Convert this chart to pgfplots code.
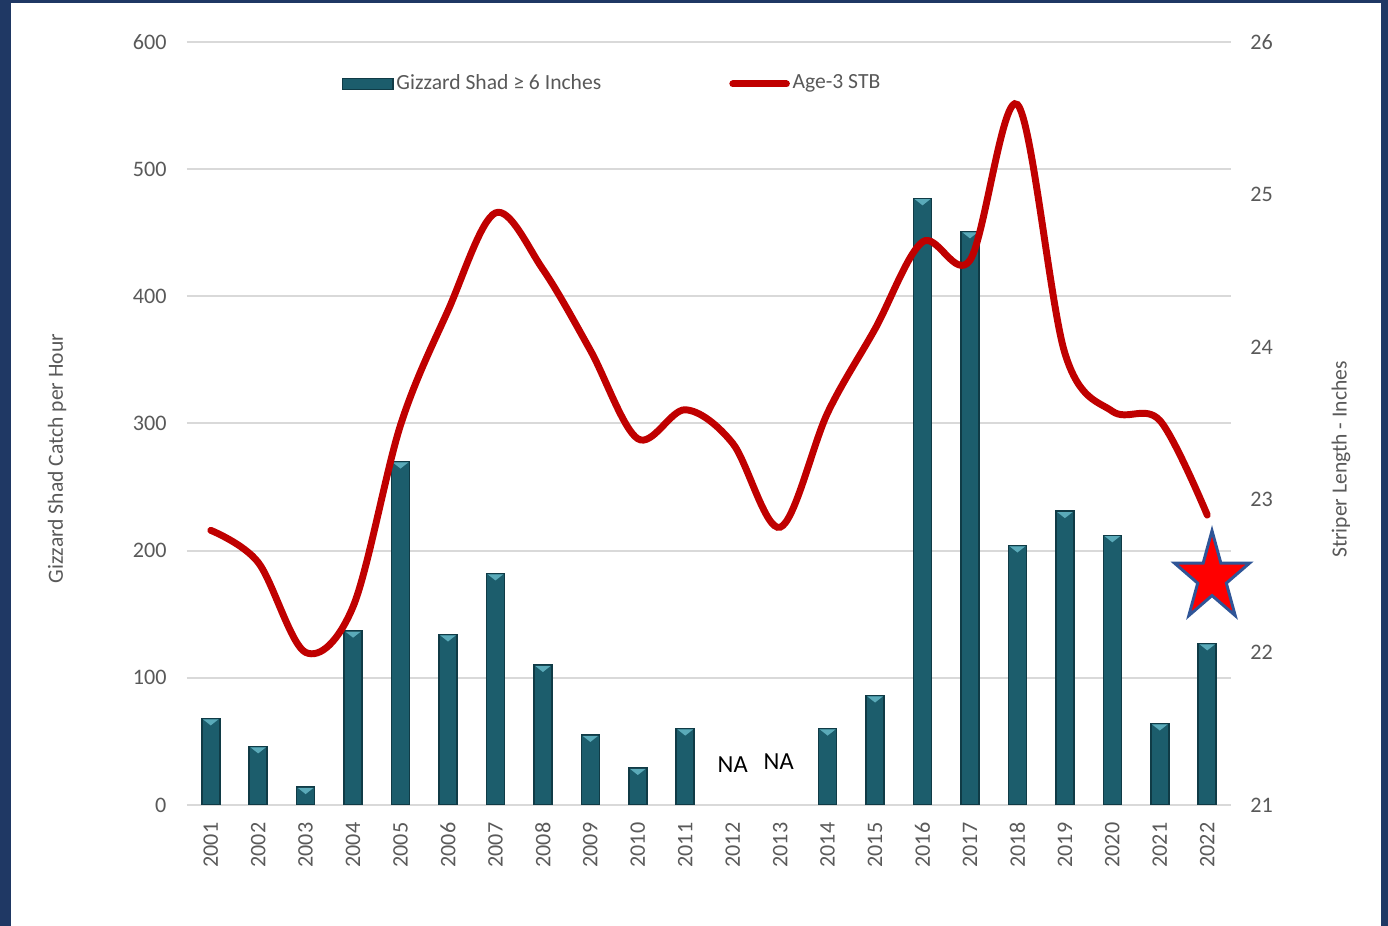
\documentclass[border=0pt]{standalone}
\usepackage{fontspec}
\setmainfont{Carlito}
\usepackage{pgfplots}
\usepackage{pgfplotstable}
\pgfplotsset{compat=1.18}
\definecolor{navy}{HTML}{1F3864}
\definecolor{barmid}{HTML}{1C5D6C}
\definecolor{baredge}{HTML}{103B46}
\definecolor{barlight}{HTML}{5AAAB9}
\definecolor{linered}{HTML}{C00000}
\definecolor{txtgray}{HTML}{595959}
\definecolor{gridgray}{HTML}{D9D9D9}
\definecolor{starblue}{HTML}{2F5597}

\pgfdeclareplotmark{bigstar}{%
  \pgfpathmoveto{\pgfqpoint{0pt}{17.6pt}}%
  \pgfpathlineto{\pgfqpoint{-3.32pt}{5.44pt}}%
  \pgfpathlineto{\pgfqpoint{-14.08pt}{5.44pt}}%
  \pgfpathlineto{\pgfqpoint{-5.37pt}{-2.08pt}}%
  \pgfpathlineto{\pgfqpoint{-8.70pt}{-14.24pt}}%
  \pgfpathlineto{\pgfqpoint{0pt}{-6.72pt}}%
  \pgfpathlineto{\pgfqpoint{8.70pt}{-14.24pt}}%
  \pgfpathlineto{\pgfqpoint{5.37pt}{-2.08pt}}%
  \pgfpathlineto{\pgfqpoint{14.08pt}{5.44pt}}%
  \pgfpathlineto{\pgfqpoint{3.32pt}{5.44pt}}%
  \pgfpathclose
  \pgfusepathqfillstroke}

\pgfdeclareplotmark{bevel}{%
  \pgfpathmoveto{\pgfqpoint{-2.9pt}{-0.3pt}}%
  \pgfpathlineto{\pgfqpoint{2.9pt}{-0.3pt}}%
  \pgfpathlineto{\pgfqpoint{0pt}{-2.6pt}}%
  \pgfpathclose
  \pgfusepathqfill}

\pgfplotstableread{
x y
0 68
1 46
2 14
3 137
4 270
5 134
6 182
7 110
8 55
9 29
10 60
13 60
14 86
15 477
16 451
17 204
18 231
19 212
20 64
21 127
}\shad

\pgfplotstableread{
x y
0 22.80
1 22.59
2 22.00
3 22.30
4 23.49
5 24.24
6 24.88
7 24.51
8 23.98
9 23.40
10 23.59
11 23.37
12 22.82
13 23.57
14 24.12
15 24.69
16 24.57
17 25.59
18 23.96
19 23.58
20 23.52
21 22.90
}\stb

\begin{document}
\begin{tikzpicture}
\useasboundingbox (0pt,0pt) rectangle (520.5pt,347.25pt);
\fill[navy] (0pt,0pt) rectangle (520.5pt,347.25pt);
\fill[white] (4.125pt,0pt) rectangle (517.875pt,346.125pt);
\begin{axis}[
  at={(70.125pt,45.375pt)}, anchor=south west,
  scale only axis, width=391.5pt, height=286.125pt,
  xmin=-0.5, xmax=21.5, ymin=0, ymax=600,
  ytick={0,100,...,600},
  xtick={0,...,21},
  xticklabels={2001,2002,2003,2004,2005,2006,2007,2008,2009,2010,2011,2012,2013,2014,2015,2016,2017,2018,2019,2020,2021,2022},
  ymajorgrids, grid style={gridgray, line width=0.75pt},
  axis line style={draw=none}, major tick length=0pt,
  tick label style={font=\fontsize{8.3}{10}\selectfont, text=txtgray, inner sep=0pt},
  /pgf/number format/assume math mode=true,
  xticklabel style={rotate=90, anchor=east},
  xticklabel shift=6.4pt,
  yticklabel shift=7.5pt,
  ylabel={Gizzard Shad Catch per Hour},
  every axis y label/.style={at={(axis description cs:-0.1245,0.454)}, rotate=90, anchor=center, font=\fontsize{8.1}{10}\selectfont, text=txtgray},
  legend style={at={(0.1475,0.945)}, anchor=west, draw=none, fill=none,
    font=\fontsize{8.1}{10}\selectfont, text=txtgray, inner xsep=0pt,
    /tikz/every even column/.append style={column sep=47pt},
    nodes={inner xsep=1pt}},
  legend columns=2,
]
\addplot[ybar, bar width=6.75pt, fill=barmid, draw=baredge, line width=0.6pt,
  mark=bevel, mark options={fill=barlight, draw=none},
  legend image code/.code={\fill[barmid, draw=baredge, line width=0.6pt] (0pt,-2.05pt) rectangle (19pt,2.05pt);}]
  table[x=x,y=y] {\shad};
\addlegendentry{Gizzard Shad ≥ 6 Inches}
\addlegendimage{linered, line width=2.6pt, line cap=round, legend image code/.code={\draw[linered, line width=2.6pt, line cap=round] (1.3pt,0pt) -- (21.4pt,0pt);}}
\addlegendentry{Age-3 STB}
\node[font=\fontsize{9.2}{10}\selectfont, text=black] at (axis cs:11,31.5) {NA};
\node[font=\fontsize{9.2}{10}\selectfont, text=black] at (axis cs:11.97,33.8) {NA};
\end{axis}
\begin{axis}[
  at={(70.125pt,45.375pt)}, anchor=south west,
  scale only axis, width=391.5pt, height=286.125pt,
  xmin=-0.5, xmax=21.5, ymin=21, ymax=26,
  ytick={21,22,...,26},
  axis y line*=right, hide x axis,
  axis line style={draw=none}, major tick length=0pt,
  tick label style={font=\fontsize{8.3}{10}\selectfont, text=txtgray, inner sep=0pt},
  /pgf/number format/assume math mode=true,
  yticklabel shift=7.1pt,
  clip=false,
  ylabel={Striper Length - Inches},
  every axis y label/.style={at={(axis description cs:1.1054,0.4528)}, rotate=90, anchor=center, font=\fontsize{8.1}{10}\selectfont, text=txtgray},
]
\addplot[linered, line width=2.6pt, line cap=round, smooth, tension=0.55] table[x=x,y=y] {\stb};
\addplot[only marks, mark=bigstar, mark options={fill=red, draw=starblue, line width=1.1pt}] coordinates {(21.1,22.49)};
\end{axis}
\end{tikzpicture}
\end{document}
